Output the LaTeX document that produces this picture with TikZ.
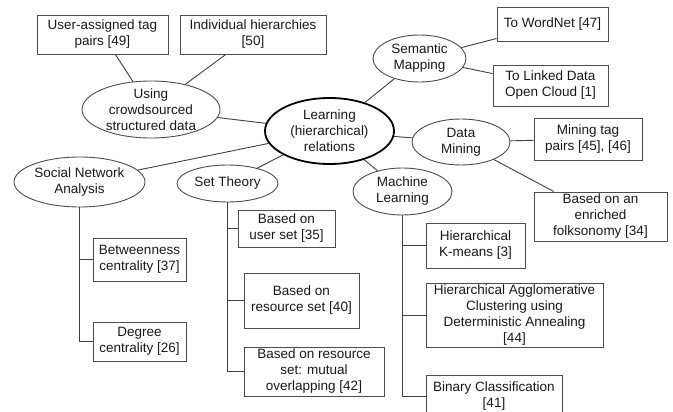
\documentclass[tikz,border=0pt]{standalone}
\usepackage{fontspec}
\setmainfont{Liberation Sans}
\usetikzlibrary{shapes.geometric}
\begin{document}
\begin{tikzpicture}[x=1pt,y=-1pt,
  every node/.style={font=\fontsize{13.5}{16}\selectfont, text=black!90, align=center},
  box/.style={draw=black!70, line width=0.9pt, rectangle, inner sep=0pt},
  ell/.style={draw=black!70, line width=0.9pt, ellipse, inner sep=-8pt},
  conn/.style={draw=black!75, line width=0.9pt}]
\fill[white] (0,0) rectangle (673,412);
\useasboundingbox (0,0) rectangle (673,412);
\clip (0,0) rectangle (673,412);

% centre
\node[ell, draw=black, line width=1.8pt, minimum width=129pt, minimum height=66pt] (c) at (329.5,131) {Learning\\(hierarchical)\\relations};

% crowdsourced
\node[ell, minimum width=138pt, minimum height=57pt] (e1) at (151,109.5) {Using\\crowdsourced\\structured data};
\node[box, minimum width=131pt, minimum height=39pt] (b1) at (102.5,34.5) {User-assigned tag\\pairs [49]};
\node[box, minimum width=146pt, minimum height=39pt] (b2) at (253,34.5) {Individual hierarchies\\{}[50]};

% semantic mapping
\node[ell, minimum width=93pt, minimum height=47pt] (sm) at (419.5,58.5) {Semantic\\Mapping};
\node[box, minimum width=111pt, minimum height=34pt] (wn) at (552.5,24) {To WordNet [47]};
\node[box, minimum width=115pt, minimum height=41pt] (lod) at (550.5,85.5) {To Linked Data\\Open Cloud [1]};

% data mining
\node[ell, minimum width=98pt, minimum height=46pt] (dm) at (461,142) {Data\\Mining};
\node[box, minimum width=108pt, minimum height=42pt] (mt) at (588,139) {Mining tag\\pairs [45], [46]};
\node[box, minimum width=133pt, minimum height=49pt] (fk) at (600.5,216.5) {Based on an\\enriched\\folksonomy [34]};

% machine learning
\node[ell, minimum width=99pt, minimum height=47pt] (ml) at (402.5,191.5) {Machine\\Learning};
\node[box, minimum width=99pt, minimum height=45pt] (km) at (475.5,245.5) {Hierarchical\\K-means [3]};
\node[box, minimum width=177pt, minimum height=64pt] (hac) at (514.5,315) {Hierarchical Agglomerative\\Clustering using\\Deterministic Annealing\\{}[44]};
\node[box, minimum width=136pt, minimum height=42pt] (bc) at (494,396) {Binary Classification\\{}[41]};

% social network analysis
\node[ell, minimum width=131pt, minimum height=50pt] (sna) at (79.5,182) {Social Network\\Analysis};
\node[box, minimum width=93pt, minimum height=43pt] (bt) at (139.5,259.5) {Betweenness\\centrality [37]};
\node[box, minimum width=93pt, minimum height=39pt] (dg) at (139.5,341.5) {Degree\\centrality [26]};

% set theory
\node[ell, minimum width=101pt, minimum height=37pt] (st) at (227.5,183.5) {Set Theory};
\node[box, minimum width=97pt, minimum height=37pt] (us) at (286.5,228.5) {Based on\\user set [35]};
\node[box, minimum width=115pt, minimum height=55pt] (rs) at (301.5,300.5) {Based on\\resource set [40]};
\node[box, minimum width=140pt, minimum height=49pt] (mo) at (314,371.5) {Based on resource\\set: mutual\\overlapping [42]};

% connectors
\draw[conn] (b1) -- (e1);
\draw[conn] (b2) -- (e1);
\draw[conn] (e1) -- (c);
\draw[conn] (c) -- (sm);
\draw[conn] (sm) -- (wn);
\draw[conn] (sm) -- (lod);
\draw[conn] (c) -- (dm);
\draw[conn] (dm) -- (mt);
\draw[conn] (dm) -- (fk);
\draw[conn] (c) -- (ml);
\draw[conn] (c) -- (sna);
\draw[conn] (c) -- (st);

\draw[conn] (sna.south) |- (dg.west);
\draw[conn] (sna.south |- bt.west) -- (bt.west);

\draw[conn] (st.south) |- (mo.west);
\draw[conn] (st.south |- us.west) -- (us.west);
\draw[conn] (st.south |- rs.west) -- (rs.west);

\draw[conn] (ml.south) |- (bc.west);
\draw[conn] (ml.south |- km.west) -- (km.west);
\draw[conn] (ml.south |- hac.west) -- (hac.west);
\end{tikzpicture}
\end{document}
